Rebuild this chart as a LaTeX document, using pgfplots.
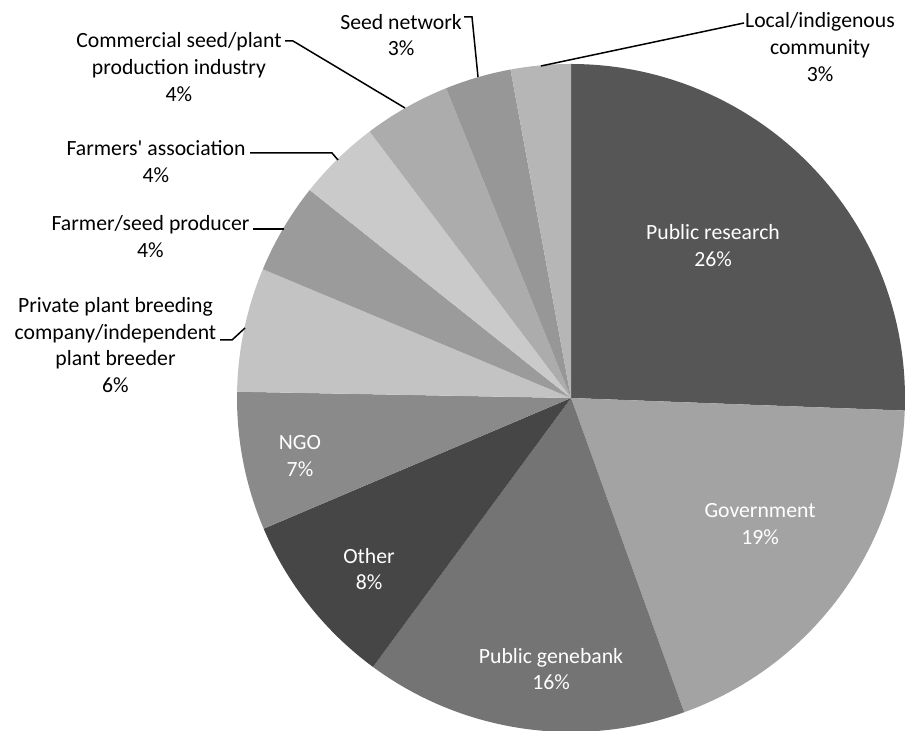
\documentclass[border=0pt]{standalone}
\usepackage{pgfplots}
\usepackage{pgfplotstable}
\usepackage{fontspec}
\setmainfont{Carlito}
\pgfplotsset{compat=1.18}

% share of each slice in percent, grey level 0-255
\pgfplotstableread[col sep=comma]{
label,pct,gray
Public research,25.6,86
Government,18.9,163
Public genebank,15.6,116
Other,8.5,70
NGO,6.7,138
Private,6.0,195
Farmer,4.4,155
Farmers association,4.0,202
Commercial,4.2,172
Seed network,3.2,151
Local,2.9,182
}\piedata

\begin{document}
\begin{tikzpicture}
\begin{axis}[
    width=454.5pt, height=365.5pt,
    scale only axis,
    xmin=0, xmax=909, ymin=0, ymax=731,
    hide axis,
    clip=false,
]
\pgfplotstablegetrowsof{\piedata}
\pgfmathtruncatemacro\lastrow{\pgfplotsretval-1}
\xdef\angstart{90}
\pgfplotsforeachungrouped \i in {0,...,\lastrow}{
    \pgfplotstablegetelem{\i}{pct}\of\piedata \let\pct\pgfplotsretval
    \pgfplotstablegetelem{\i}{gray}\of\piedata \let\gr\pgfplotsretval
    \pgfmathsetmacro\angend{\angstart-3.6*\pct}
    \edef\temp{\noexpand\fill[color={rgb,255:red,\gr;green,\gr;blue,\gr}]
        (axis cs:571,333) -- ++(\angstart:167pt)
        arc[start angle=\angstart, end angle=\angend, radius=167pt] -- cycle;}
    \temp
    \xdef\angstart{\angend}
}

% leader lines
\draw[black, line width=0.75pt] (axis cs:744,708) -- (axis cs:541,665);
\draw[black, line width=0.75pt] (axis cs:464,714) -- (axis cs:472,714) -- (axis cs:478,654);
\draw[black, line width=0.75pt] (axis cs:285,690) -- (axis cs:293,690) -- (axis cs:405,623);
\draw[black, line width=0.75pt] (axis cs:250,578) -- (axis cs:332,578) -- (axis cs:338,571);
\draw[black, line width=0.75pt] (axis cs:253,502) -- (axis cs:284,502);
\draw[black, line width=0.75pt] (axis cs:220,391) -- (axis cs:232,391) -- (axis cs:245,403);

% labels
\tikzset{lbl/.style={align=center, inner sep=0pt, font=\fontsize{10.85}{13.4}\selectfont}}
\node[lbl, white] at (axis cs:713,485.5) {Public research\\26\%};
\node[lbl, white] at (axis cs:760,207) {Government\\19\%};
\node[lbl, white] at (axis cs:551,62) {Public genebank\\16\%};
\node[lbl, white] at (axis cs:369,162) {Other\\8\%};
\node[lbl, white] at (axis cs:300,275) {NGO\\7\%};
\node[lbl] at (axis cs:115.5,386) {Private plant breeding\\company/independent\\plant breeder\\6\%};
\node[lbl] at (axis cs:150.5,494.5) {Farmer/seed producer\\4\%};
\node[lbl] at (axis cs:156,569.5) {Farmers\textquotesingle\ association\\4\%};
\node[lbl] at (axis cs:179,664) {Commercial seed/plant\\production industry\\4\%};
\node[lbl] at (axis cs:401,696) {Seed network\\3\%};
\node[lbl] at (axis cs:820,684) {Local/indigenous\\community\\3\%};
\end{axis}
\pgfresetboundingbox
\path[use as bounding box] (current axis.south west) rectangle (current axis.north east);
\end{tikzpicture}
\end{document}
